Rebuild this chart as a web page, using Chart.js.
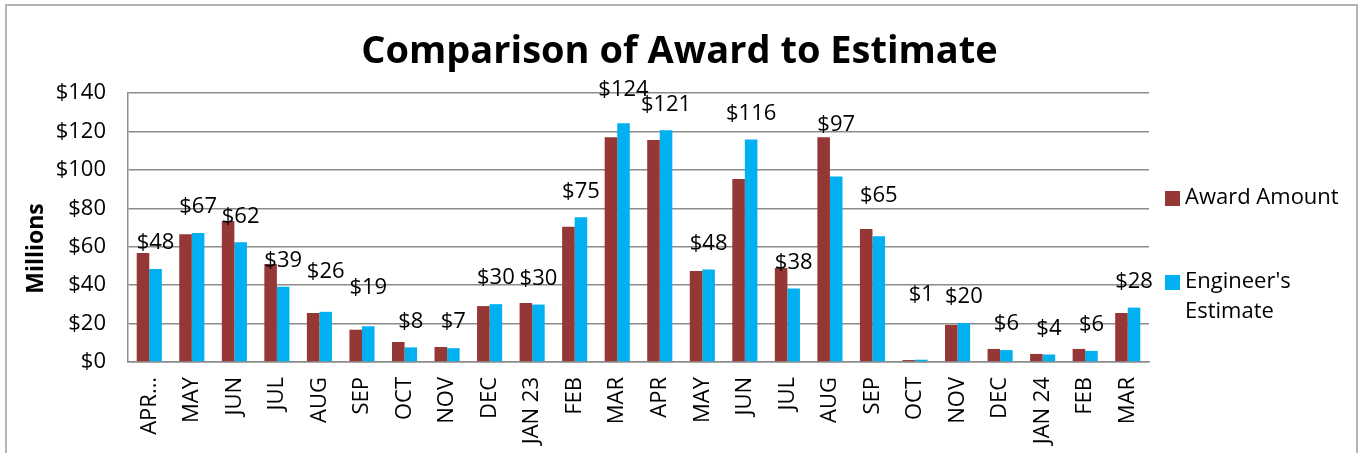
<!DOCTYPE html>
<html>
<head>
<meta charset="utf-8">
<script src="https://cdn.jsdelivr.net/npm/chart.js@4.4.1/dist/chart.umd.min.js"></script>
<style>
  html, body { margin: 0; padding: 0; background: #fff; }
  #wrap { position: relative; width: 1359px; height: 453px; }
</style>
</head>
<body>
<div id="wrap"><canvas id="chart"></canvas></div>
<script>
// months, Apr 2022 .. Mar 2024
const months = ["APR\u2026", "MAY", "JUN", "JUL", "AUG", "SEP", "OCT", "NOV", "DEC", "JAN 23",
  "FEB", "MAR", "APR", "MAY", "JUN", "JUL", "AUG", "SEP", "OCT", "NOV", "DEC", "JAN 24", "FEB", "MAR"];

// $ millions
const awardAmount = [56.7, 66.5, 73.4, 51.0, 25.5, 16.8, 10.4, 7.8, 29.1, 30.7,
  70.4, 117.0, 115.6, 47.4, 95.3, 48.9, 117.0, 69.2, 1.0, 19.3, 6.8, 4.2, 6.8, 25.5];
const engineersEstimate = [48.4, 67.2, 62.3, 39.2, 26.1, 18.6, 7.6, 7.2, 30.1, 29.9,
  75.3, 124.2, 120.6, 48.1, 115.8, 38.2, 96.6, 65.4, 1.2, 20.3, 6.2, 3.9, 5.8, 28.3];

const yTicks = [0, 20, 40, 60, 80, 100, 120, 140];

const chartTitle = "Comparison of Award to Estimate";
const yTitle = "Millions";

const FONT = "'Open Sans', 'DejaVu Sans', sans-serif";

// a few labels were dragged up by hand in the original
const labelLift = { 4: 14, 5: 13, 11: 8, 16: 26, 17: 15, 18: 39 };

const frame = {
  id: "frame",
  beforeDraw(chart) {
    const ctx = chart.ctx;
    ctx.save();
    ctx.strokeStyle = "#b4b4b4";
    ctx.lineWidth = 2;
    ctx.strokeRect(6, 5, 1351, 470);
    // title centred on the whole frame, not on the plot
    ctx.font = "bold 38px " + FONT;
    ctx.fillStyle = "#000";
    ctx.textAlign = "center";
    ctx.textBaseline = "middle";
    ctx.fillText(chartTitle, chart.width / 2, 52);
    // axis title sits a little below the plot's middle in the original
    const { top, bottom } = chart.chartArea;
    ctx.translate(36, (top + bottom) / 2 + 21);
    ctx.rotate(-Math.PI / 2);
    ctx.font = "bold 23px " + FONT;
    ctx.fillText(yTitle, 0, 0);
    ctx.restore();
  }
};

const valueLabels = {
  id: "valueLabels",
  afterDatasetsDraw(chart) {
    const ctx = chart.ctx;
    const meta = chart.getDatasetMeta(1);
    ctx.save();
    ctx.font = "22px " + FONT;
    ctx.fillStyle = "#000";
    ctx.textAlign = "center";
    ctx.textBaseline = "middle";
    meta.data.forEach((bar, i) => {
      const v = chart.data.datasets[1].data[i];
      ctx.fillText("$" + Math.round(v), bar.x, bar.y - 26 - (labelLift[i] || 0));
    });
    ctx.restore();
  }
};

const sideLegend = {
  id: "sideLegend",
  afterDraw(chart) {
    const ctx = chart.ctx;
    const { right, top } = chart.chartArea;
    const items = [
      { color: "#953735", lines: ["Award Amount"], y: top + 105 },
      { color: "#00B0F0", lines: ["Engineer's", "Estimate"], y: top + 189 }
    ];
    ctx.save();
    ctx.font = "22px " + FONT;
    ctx.textBaseline = "middle";
    items.forEach(item => {
      ctx.fillStyle = item.color;
      ctx.fillRect(right + 16, item.y - 7, 15, 15);
      ctx.fillStyle = "#000";
      item.lines.forEach((t, k) => ctx.fillText(t, right + 36, item.y + k * 30));
    });
    ctx.restore();
  }
};

new Chart(document.getElementById("chart"), {
  type: "bar",
  data: {
    labels: months,
    datasets: [
      {
        label: "Award Amount",
        data: awardAmount,
        backgroundColor: "#953735",
        categoryPercentage: 0.59,
        barPercentage: 1.0
      },
      {
        label: "Engineer's Estimate",
        data: engineersEstimate,
        backgroundColor: "#00B0F0",
        categoryPercentage: 0.59,
        barPercentage: 1.0
      }
    ]
  },
  options: {
    responsive: true,
    maintainAspectRatio: false,
    animation: false,
    layout: {
      padding: { left: 0, right: 210, top: 93, bottom: 0 }
    },
    plugins: {
      legend: { display: false },
      tooltip: { enabled: false },
      title: { display: false }
    },
    scales: {
      x: {
        grid: { display: false, drawTicks: false },
        border: { display: true, color: "#8c8c8c", width: 1.5 },
        ticks: {
          color: "#000",
          font: { family: FONT, size: 22 },
          maxRotation: 90,
          minRotation: 90,
          padding: 15,
          autoSkip: false
        },
        afterFit(scale) { scale.height = 91; }
      },
      y: {
        min: 0,
        max: 140,
        afterBuildTicks(scale) { scale.ticks = yTicks.map(v => ({ value: v })); },
        grid: { color: "#8c8c8c", lineWidth: 1.5, drawTicks: false },
        border: { display: true, color: "#8c8c8c", width: 1.5 },
        ticks: {
          color: "#000",
          font: { family: FONT, size: 22 },
          padding: 22,
          callback: v => "$" + v
        },
        afterFit(scale) { scale.width = 128; }
      }
    }
  },
  plugins: [frame, valueLabels, sideLegend]
});
</script>
</body>
</html>
